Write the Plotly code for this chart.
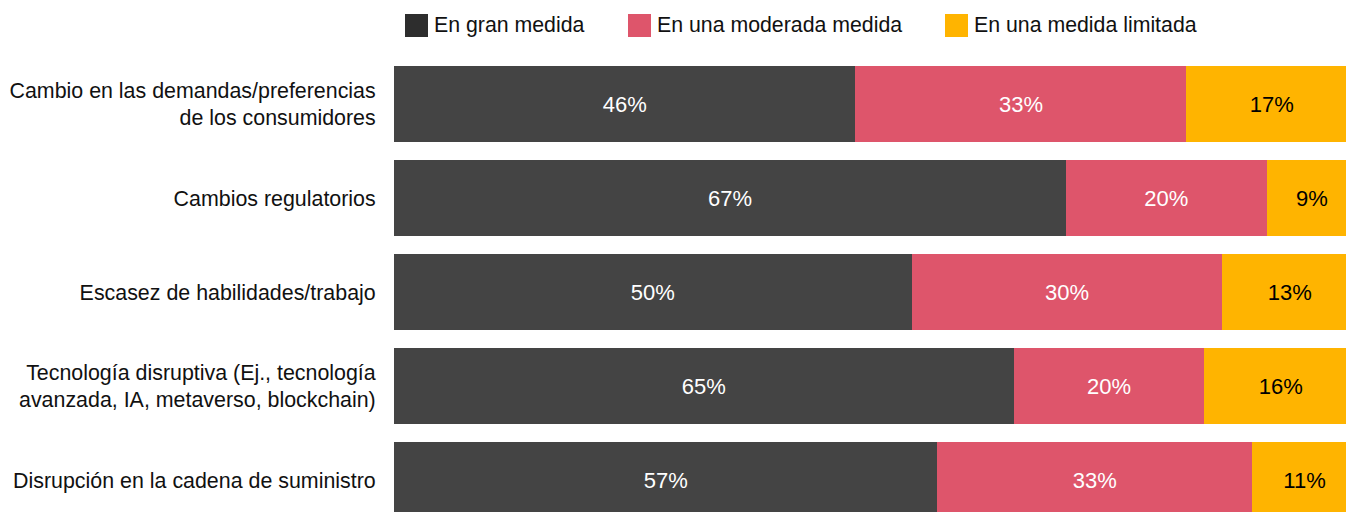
import plotly.graph_objects as go

categories = [
    "Cambio en las demandas/preferencias<br>de los consumidores",
    "Cambios regulatorios",
    "Escasez de habilidades/trabajo",
    "Tecnología disruptiva (Ej., tecnología<br>avanzada, IA, metaverso, blockchain)",
    "Disrupción en la cadena de suministro",
]
series_names = ["En gran medida", "En una moderada medida", "En una medida limitada"]
gran = [46, 67, 50, 65, 57]
moderada = [33, 20, 30, 20, 33]
limitada = [17, 9, 13, 16, 11]

colors = ["#444444", "#DE556B", "#FFB400"]
legend_colors = ["#2D2D2D", "#DE556B", "#FFB400"]
text_colors = ["white", "white", "black"]
FONT = "Liberation Sans, Arial"

fig = go.Figure()
for name, vals, col, tcol in zip(series_names, [gran, moderada, limitada], colors, text_colors):
    fig.add_trace(go.Bar(
        y=categories, x=vals, name=name, orientation="h",
        marker=dict(color=col, line=dict(width=0)),
        text=vals, texttemplate="%{text}%", textposition="inside",
        insidetextanchor="middle", textangle=0,
        textfont=dict(family=FONT, size=22, color=tcol),
        showlegend=False,
    ))

# legend drawn by hand: large squares with labels
legend_x = [405, 628, 945]
for name, col, lx in zip(series_names, legend_colors, legend_x):
    fig.add_shape(type="rect", xref="paper", yref="paper",
                  x0=(lx - 394) / 952, x1=(lx + 23 - 394) / 952,
                  y0=(512 - 37) / 455, y1=(512 - 14) / 455,
                  fillcolor=col, line=dict(width=0))
    fig.add_annotation(text=name, xref="paper", yref="paper",
                       x=(lx + 27 - 394) / 952, y=(512 - 25) / 455,
                       xanchor="left", yanchor="middle", showarrow=False,
                       font=dict(family=FONT, size=21.3, color="#111111"))

fig.update_layout(
    width=1346, height=512,
    barmode="stack", barnorm="percent", bargap=0.19,
    margin=dict(l=394, r=0, t=57, b=0),
    plot_bgcolor="white", paper_bgcolor="white",
    font=dict(family=FONT, size=21, color="#111111"),
    xaxis=dict(range=[0, 98.86], visible=False, fixedrange=True),
    yaxis=dict(type="category", categoryorder="array", categoryarray=categories,
               range=[4.34, -0.5], showgrid=False, zeroline=False, showline=False,
               ticks="outside", ticklen=13, tickcolor="rgba(0,0,0,0)",
               tickfont=dict(family=FONT, size=21.4, color="#111111"), fixedrange=True),
)

fig.write_html("out.html", config={"displayModeBar": False},
               post_script="document.body.style.margin='0';")
